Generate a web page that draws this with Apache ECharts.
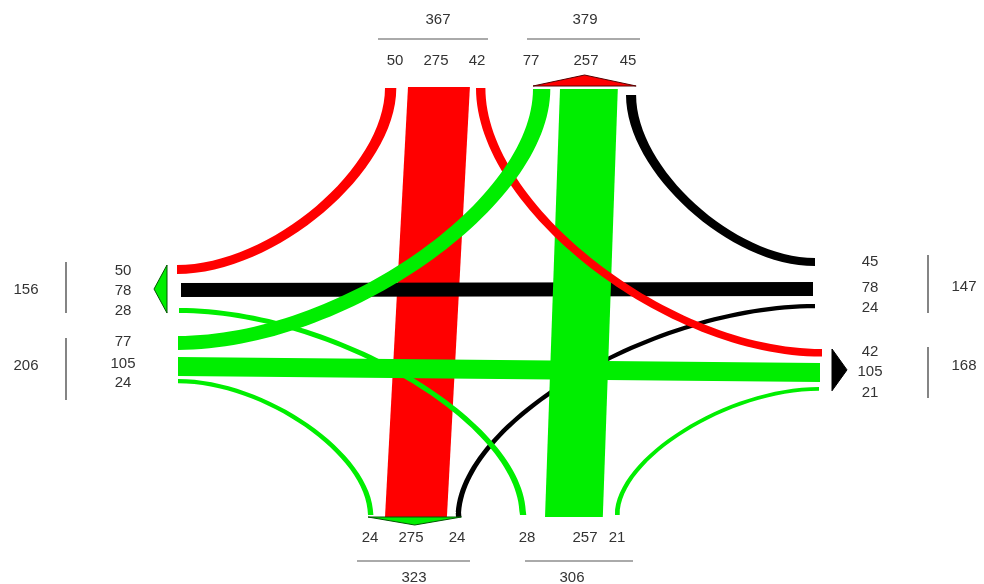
<!DOCTYPE html>
<html>
<head>
<meta charset="utf-8">
<script src="https://cdn.jsdelivr.net/npm/echarts@6/dist/echarts.min.js"></script>
<style>
  html, body { margin: 0; padding: 0; background: #fff; }
  #main { width: 984px; height: 584px; }
</style>
</head>
<body>
<div id="main"></div>
<script>
// turning movements: origin approach -> destination approach, volume
var flowFrom = ['N', 'N', 'N', 'E', 'E', 'E', 'S', 'S', 'S', 'W', 'W', 'W'];
var flowTo = ['W', 'S', 'E', 'N', 'W', 'S', 'W', 'N', 'E', 'N', 'E', 'S'];
var flowVolume = [50, 275, 42, 45, 78, 24, 28, 257, 21, 77, 105, 24];

// which flow sits in which slot along each side (left->right, top->bottom)
var sideFlows = {
  N: [0, 1, 2, 9, 7, 3],
  S: [11, 1, 5, 6, 7, 8],
  W: [0, 4, 6, 9, 10, 11],
  E: [3, 4, 5, 2, 10, 8]
};

// layout (axis units = pixels)
var sideLine = { N: [88, 87, 88, 89, 89, 95], S: [515, 517, 517, 515, 517, 515], W: [177, 181, 179, 178, 178, 178], E: [815, 813, 815, 822, 820, 819] };
var sideStart = { N: [385, 408, 476, 533, 560, 626], S: [368, 385, 456, 520, 545, 615], W: [265, 283, 308, 336, 357, 379], E: [258, 282, 304, 349, 363, 387] };
var bandScale = { N: 0.225, S: 0.225, W: 0.18, E: 0.18 };
var curveK = 0.45;
var approachColor = { N: '#ff0000', E: '#000000', S: '#00ee00', W: '#00ee00' };
var arrowStroke = { N: '#550000', E: '#000000', S: '#005500', W: '#005500' };
var drawOrder = [1, 4, 3, 5, 10, 7, 0, 2, 9, 6, 11, 8];

var labelAt = { N: 61, S: 538, W: 123, E: 870 };
var labelAlong = { N: [395, 436, 477, 531, 586, 628], S: [370, 411, 457, 527, 585, 617], W: [271, 291, 311, 342, 364, 383], E: [262, 288, 308, 352, 372, 393] };
var totalAt = { N: 20, S: 578, W: 26, E: 964 };
var totalAlong = { N: [438, 585], S: [414, 572], W: [290, 366], E: [287, 366] };
var totalLineAt = { N: 39, S: 561, W: 66, E: 928 };
var groupLine = { N: [[378, 488], [527, 640]], S: [[357, 470], [525, 633]], W: [[262, 313], [338, 400]], E: [[255, 313], [347, 398]] };
var arrowGap = { N: 3, S: 2, W: 10, E: 10 };
var arrowDepth = { N: 11, S: 8, W: 13, E: 15 };
var groupSide = ['N', 'N', 'S', 'S', 'W', 'W', 'E', 'E'];
var groupPart = [0, 1, 0, 1, 0, 1, 0, 1];

function isH(s) { return s === 'N' || s === 'S'; }
function bandOf(i, side) {
  var k = sideFlows[side].indexOf(i);
  var a = sideStart[side][k];
  return { side: side, a: a, b: a + flowVolume[i] * bandScale[side], line: sideLine[side][k] };
}
function pt(end, along) {
  return isH(end.side) ? [along, end.line] : [end.line, along];
}
function onSide(side, along, at) {
  return isH(side) ? [along, at] : [at, along];
}

function flowPath(i, api) {
  var P = function (p) { var q = api.coord(p); return q[0].toFixed(1) + ' ' + q[1].toFixed(1) + ' '; };
  var f = bandOf(i, flowFrom[i]), t = bandOf(i, flowTo[i]);
  if (isH(f.side) === isH(t.side)) {
    return 'M' + P(pt(f, f.a)) + 'L' + P(pt(f, f.b)) + 'L' + P(pt(t, t.b)) + 'L' + P(pt(t, t.a)) + 'Z';
  }
  var h = isH(f.side) ? f : t, v = isH(f.side) ? t : f;
  var hs = [h.a, h.b], vs = [v.a, v.b];
  if (v.side === 'E') hs.reverse();
  if (h.side === 'S') vs.reverse();
  var e = [0, 1].map(function (j) {
    var hp = [hs[j], h.line], vp = [v.line, vs[j]];
    return {
      hp: hp, vp: vp,
      c1: [hp[0], hp[1] + curveK * (vp[1] - hp[1])],
      c2: [vp[0] + curveK * (hp[0] - vp[0]), vp[1]]
    };
  });
  return 'M' + P(e[0].hp) + 'C' + P(e[0].c1) + P(e[0].c2) + P(e[0].vp) +
    'L' + P(e[1].vp) + 'C' + P(e[1].c2) + P(e[1].c1) + P(e[1].hp) + 'Z';
}

function textEl(p, str) {
  return {
    type: 'text', x: p[0], y: p[1],
    style: { text: str, fill: '#333', font: '15px "Liberation Sans", Arial, sans-serif', align: 'center', verticalAlign: 'middle' }
  };
}

function renderGroup(g, api) {
  var side = groupSide[g], part = groupPart[g];
  var slots = sideFlows[side].slice(part * 3, part * 3 + 3);
  var children = [];
  var total = 0, lo = Infinity, hi = -Infinity;
  slots.forEach(function (i, n) {
    var b = bandOf(i, side);
    total += flowVolume[i];
    lo = Math.min(lo, b.a); hi = Math.max(hi, b.b);
    children.push(textEl(api.coord(onSide(side, labelAlong[side][part * 3 + n], labelAt[side])), String(flowVolume[i])));
  });
  var gl = groupLine[side][part];
  var q1 = api.coord(onSide(side, gl[0], totalLineAt[side]));
  var q2 = api.coord(onSide(side, gl[1], totalLineAt[side]));
  children.push({
    type: 'line', shape: { x1: q1[0], y1: q1[1], x2: q2[0], y2: q2[1] },
    style: isH(side) ? { stroke: '#aaa', lineWidth: 2 } : { stroke: '#333', lineWidth: 1.2 }
  });
  children.push(textEl(api.coord(onSide(side, totalAlong[side][part], totalAt[side])), String(total)));

  // exit arrow
  if (flowTo[slots[0]] === side) {
    var line = sideLine[side][part * 3];
    var dir = (side === 'N' || side === 'W') ? -1 : 1;
    var base = line + dir * arrowGap[side];
    var apex = base + dir * arrowDepth[side];
    var m = (lo + hi) / 2;
    var pts = [onSide(side, lo, base), onSide(side, hi, base), onSide(side, m, apex)];
    children.push({
      type: 'polygon', shape: { points: pts.map(function (p) { return api.coord(p); }) },
      style: { fill: approachColor[side], stroke: arrowStroke[side], lineWidth: 1 }
    });
  }
  return { type: 'group', children: children };
}

var chart = echarts.init(document.getElementById('main'));
var option = {
  animation: false,
  backgroundColor: '#fff',
  grid: { left: 0, right: 0, top: 0, bottom: 0 },
  xAxis: { type: 'value', min: 0, max: 984, show: false },
  yAxis: { type: 'value', min: 0, max: 584, inverse: true, show: false },
  series: [
    {
      type: 'custom',
      coordinateSystem: 'cartesian2d',
      data: drawOrder.map(function (i) { return [i, 0]; }),
      renderItem: function (params, api) {
        var i = api.value(0);
        return { type: 'path', shape: { pathData: flowPath(i, api) }, style: { fill: approachColor[flowFrom[i]] } };
      }
    },
    {
      type: 'custom',
      coordinateSystem: 'cartesian2d',
      data: groupSide.map(function (s, g) { return [g, 0]; }),
      renderItem: function (params, api) {
        return renderGroup(api.value(0), api);
      }
    }
  ]
};
chart.setOption(option);
</script>
</body>
</html>
